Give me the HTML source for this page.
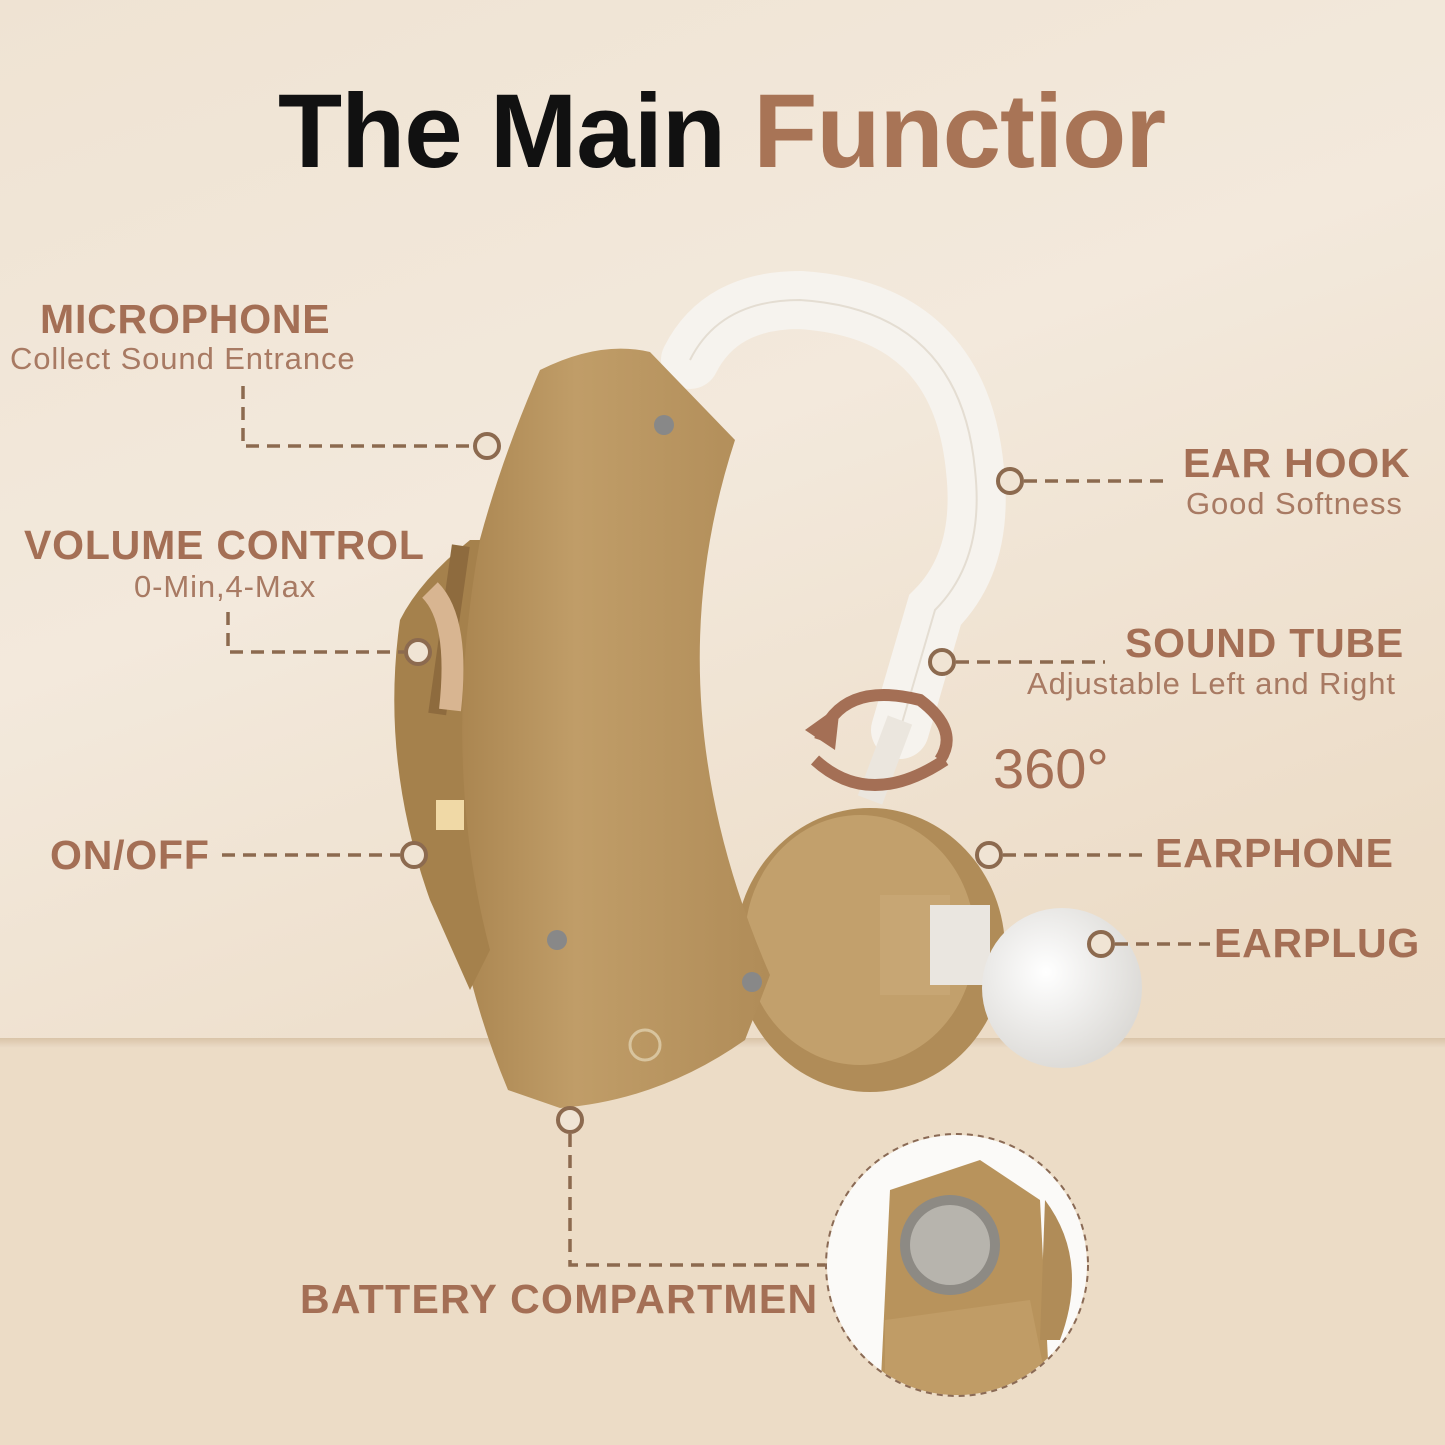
<!DOCTYPE html>
<html><head><meta charset="utf-8"><style>
html,body{margin:0;padding:0}
body{width:1445px;height:1445px;overflow:hidden;position:relative;font-family:"Liberation Sans",sans-serif;
background:linear-gradient(160deg,#efe3d3 0%,#f3e9dc 35%,#ecdcc7 70%,#e9d8c2 100%)}
.t{position:absolute;white-space:nowrap;color:#a46f55}
.b{font-weight:bold;font-size:41px;letter-spacing:0.8px}
.s{font-size:31px;color:#a87a63;letter-spacing:0.9px}
</style></head><body>
<svg width="1445" height="1445" style="position:absolute;left:0;top:0">
<defs>
<linearGradient id="fl" x1="0" y1="0" x2="0" y2="1"><stop offset="0" stop-color="#d9c4a8"/><stop offset="1" stop-color="#ecdcc8"/></linearGradient>
<linearGradient id="bd" x1="0" y1="0" x2="1" y2="0"><stop offset="0" stop-color="#a8834e"/><stop offset="0.4" stop-color="#c09d68"/><stop offset="1" stop-color="#b08c58"/></linearGradient>
<radialGradient id="ep" cx="0.4" cy="0.4" r="0.7"><stop offset="0" stop-color="#ffffff"/><stop offset="1" stop-color="#d8d6d2"/></radialGradient>
<clipPath id="cc"><circle cx="957" cy="1265" r="130"/></clipPath>
</defs>
<rect x="0" y="1040" width="1445" height="405" fill="#ecdcc6"/>
<rect x="0" y="1038" width="1445" height="10" fill="url(#fl)"/>
<path d="M690,360 Q720,300 800,300 Q960,310 975,470 Q985,560 935,610 L900,730" fill="none" stroke="#f6f3ee" stroke-width="58" stroke-linecap="round"/>
<path d="M690,360 Q720,300 800,300 Q960,310 975,470 Q985,560 935,610 L900,730" fill="none" stroke="#e4ddd2" stroke-width="2"/>
<path d="M900,720 L870,800" stroke="#ebe6de" stroke-width="26"/>
<ellipse cx="870" cy="950" rx="135" ry="142" fill="#b08c58"/>
<ellipse cx="860" cy="940" rx="115" ry="125" fill="#c2a06c"/>
<rect x="880" y="895" width="70" height="100" fill="#c7a674"/>
<rect x="930" y="905" width="60" height="80" fill="#eae6e0"/>
<circle cx="1062" cy="988" r="80" fill="url(#ep)"/>
<path d="M540,370 Q600,340 650,352 L735,440 Q650,700 770,975 L745,1040 Q660,1100 560,1108 L508,1090 Q370,760 540,370 Z" fill="url(#bd)"/>
<path d="M470,540 Q420,580 400,620 Q380,760 430,900 L470,990 L490,950 Q440,760 480,540 Z" fill="#a5814c"/>
<rect x="440" y="545" width="18" height="170" fill="#8e6b3e" transform="rotate(8 450 630)"/>
<path d="M430,590 Q460,620 450,710" stroke="#d8b591" stroke-width="22" fill="none"/>
<rect x="436" y="800" width="28" height="30" fill="#f0d9a6"/>
<circle cx="664" cy="425" r="10" fill="#888"/><circle cx="557" cy="940" r="10" fill="#888"/><circle cx="752" cy="982" r="10" fill="#888"/>
<circle cx="645" cy="1045" r="15" fill="none" stroke="#d8c49e" stroke-width="3"/>
<path d="M820,740 Q840,680 920,700 Q960,730 940,760 M815,760 Q870,810 945,760" fill="none" stroke="#a46f55" stroke-width="12"/>
<path d="M805,730 L840,705 L835,750 Z" fill="#a46f55"/>
<circle cx="957" cy="1265" r="130" fill="#fbfaf8"/>
<g clip-path="url(#cc)">
<path d="M890,1190 L980,1160 L1040,1200 L1050,1400 L880,1400 Z" fill="#b8935c"/>
<circle cx="950" cy="1245" r="50" fill="#8d8a84"/><circle cx="950" cy="1245" r="40" fill="#b7b4ad"/>
<path d="M885,1320 L1030,1300 L1050,1400 L885,1400 Z" fill="#c09c66"/>
<path d="M1045,1200 Q1090,1260 1060,1340 L1040,1340 Z" fill="#b08c58"/>
</g>
<circle cx="957" cy="1265" r="131" fill="none" stroke="#8a6a55" stroke-width="2" stroke-dasharray="6 5"/>
<g fill="none" stroke="#8c6a4f" stroke-width="3.5" stroke-dasharray="13 8">
<path d="M243,386 V446 H473"/><path d="M228,612 V652 H404"/><path d="M222,855 H400"/>
<path d="M1024,481 H1165"/><path d="M956,662 H1105"/><path d="M1003,855 H1145"/><path d="M1115,944 H1210"/>
<path d="M570,1134 V1265 H825"/>
</g>
<g fill="#f0e4d4" stroke="#8c6a4f" stroke-width="4">
<circle cx="487" cy="446" r="12"/><circle cx="418" cy="652" r="12"/><circle cx="414" cy="855" r="12"/>
<circle cx="1010" cy="481" r="12"/><circle cx="942" cy="662" r="12"/><circle cx="989" cy="855" r="12"/><circle cx="1101" cy="944" r="12"/><circle cx="570" cy="1120" r="12"/>
</g>
</svg>
<div class="t" style="left:278px;top:72px;font-size:105px;font-weight:bold;color:#111;letter-spacing:-1px">The Main <span style="color:#a87456">Functior</span></div>
<div class="t b" style="left:40px;top:296px">MICROPHONE</div>
<div class="t s" style="left:10px;top:341px">Collect Sound Entrance</div>
<div class="t b" style="left:24px;top:522px">VOLUME CONTROL</div>
<div class="t s" style="left:134px;top:569px">0-Min,4-Max</div>
<div class="t b" style="left:50px;top:832px">ON/OFF</div>
<div class="t b" style="left:1183px;top:440px">EAR HOOK</div>
<div class="t s" style="left:1186px;top:486px">Good Softness</div>
<div class="t b" style="left:1125px;top:620px">SOUND TUBE</div>
<div class="t s" style="left:1027px;top:666px">Adjustable Left and Right</div>
<div class="t" style="left:993px;top:736px;font-size:56px">360°</div>
<div class="t b" style="left:1155px;top:830px">EARPHONE</div>
<div class="t b" style="left:1214px;top:920px">EARPLUG</div>
<div class="t b" style="left:300px;top:1276px;letter-spacing:1.3px">BATTERY COMPARTMEN</div>
</body></html>
